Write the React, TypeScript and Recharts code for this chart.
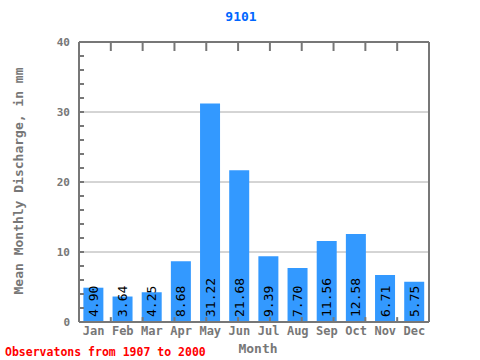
import { BarChart, Bar, XAxis, YAxis, CartesianGrid, ReferenceLine, LabelList } from 'recharts';

const months = ['Jan', 'Feb', 'Mar', 'Apr', 'May', 'Jun', 'Jul', 'Aug', 'Sep', 'Oct', 'Nov', 'Dec'];
const discharge = [4.9, 3.64, 4.25, 8.68, 31.22, 21.68, 9.39, 7.7, 11.56, 12.58, 6.71, 5.75];
const yTicks = [0, 2, 4, 6, 8, 10, 12, 14, 16, 18, 20, 22, 24, 26, 28, 30, 32, 34, 36, 38, 40];
const monthEdges = [1, 2, 3, 4, 5, 6, 7, 8, 9, 10, 11];

const data = months.map((m, i) => ({ month: m, value: discharge[i] }));

const FONT = '"DejaVu Sans Mono", monospace';
const GRAY = '#777777';

// only label the 10s, the rest are minor ticks
const LeftTick = ({ x, y, payload }: any) =>
  payload.value % 10 === 0 ? (
    <text x={x} y={y} dy={4} textAnchor="end" fontFamily={FONT} fontSize={11} fontWeight="bold" fill={GRAY}>
      {payload.value}
    </text>
  ) : (
    <g />
  );

const NoTick = () => <g />;

const BarValue = ({ x, y, width, height, value }: any) => {
  const cx = x + width / 2;
  const by = y + height - 5;
  return (
    <text
      x={cx}
      y={by}
      transform={`rotate(-90, ${cx}, ${by})`}
      textAnchor="start"
      dominantBaseline="central"
      fontFamily={FONT}
      fontSize={13}
      fill="#000"
    >
      {Number(value).toFixed(2)}
    </text>
  );
};

export default function App() {
  return (
    <div style={{ position: 'absolute', left: 0, top: 0, width: 480, height: 360, background: '#fff' }}>
      <BarChart
        width={480}
        height={360}
        data={data}
        margin={{ top: 41, right: 50, left: 49, bottom: 18 }}
        barCategoryGap="15%"
      >
        <CartesianGrid yAxisId="left" xAxisId="cat" vertical={false} horizontalValues={[10, 20, 30]} stroke="#aaaaaa" />
        <XAxis
          xAxisId="cat"
          dataKey="month"
          height={20}
          stroke={GRAY}
          strokeWidth={2}
          tickLine={false}
          tickSize={4}
          tickMargin={0}
          tick={{ fontFamily: FONT, fontSize: 12, fontWeight: 'bold', fill: GRAY }}
          interval={0}
        />
        <XAxis
          xAxisId="edge"
          orientation="top"
          type="number"
          domain={[0, 12]}
          ticks={monthEdges}
          height={1}
          stroke={GRAY}
          strokeWidth={2}
          tickSize={-9}
          tick={NoTick}
        />
        <YAxis
          yAxisId="left"
          domain={[0, 40]}
          ticks={yTicks}
          width={30}
          stroke={GRAY}
          strokeWidth={2}
          tickSize={-5}
          tickMargin={14}
          tick={LeftTick}
          interval={0}
        />
        <YAxis
          yAxisId="right"
          orientation="right"
          domain={[0, 40]}
          ticks={yTicks}
          width={1}
          stroke={GRAY}
          strokeWidth={2}
          tickSize={-5}
          tick={NoTick}
          interval={0}
        />
        {monthEdges.map((e) => (
          <ReferenceLine
            key={e}
            xAxisId="edge"
            yAxisId="left"
            segment={[{ x: e, y: 0 }, { x: e, y: 0.7 }]}
            stroke={GRAY}
            strokeWidth={2}
          />
        ))}
        <Bar xAxisId="cat" yAxisId="left" dataKey="value" fill="#3399ff" isAnimationActive={false}>
          <LabelList dataKey="value" content={BarValue} />
        </Bar>
      </BarChart>
      <svg width={480} height={360} style={{ position: 'absolute', left: 0, top: 0, pointerEvents: 'none' }}>
        <text x={241} y={21} textAnchor="middle" fontFamily={FONT} fontSize={13} fontWeight="bold" fill="#0066ff">
          9101
        </text>
        <text
          x={18}
          y={181}
          transform="rotate(-90, 18, 181)"
          textAnchor="middle"
          dominantBaseline="central"
          fontFamily={FONT}
          fontSize={13}
          fontWeight="bold"
          fill={GRAY}
        >
          Mean Monthly Discharge, in mm
        </text>
        <text x={258} y={353} textAnchor="middle" fontFamily={FONT} fontSize={13} fontWeight="bold" fill={GRAY}>
          Month
        </text>
        <text x={5} y={356} fontFamily={FONT} fontSize={11.5} fontWeight="bold" fill="#ff0000">
          Observatons from 1907 to 2000
        </text>
      </svg>
    </div>
  );
}
